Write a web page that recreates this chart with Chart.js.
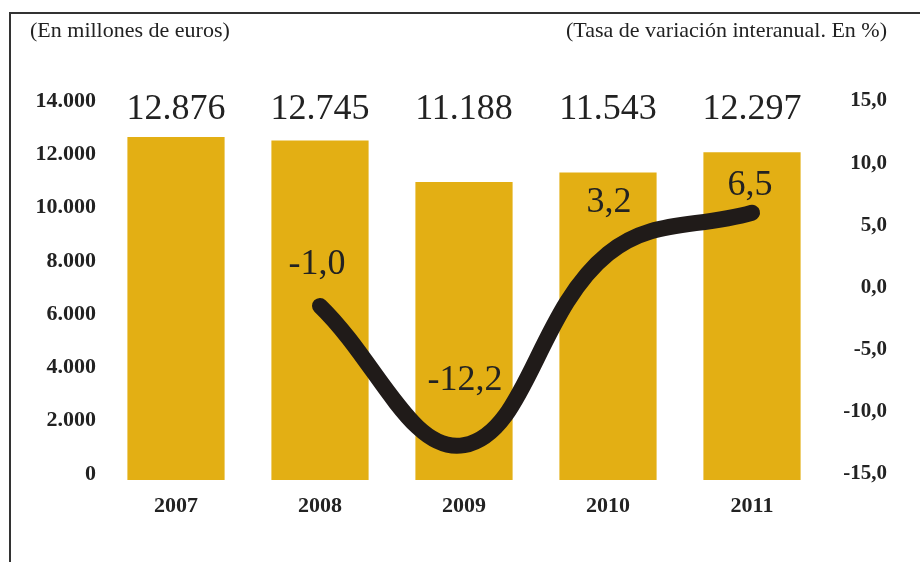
<!DOCTYPE html>
<html>
<head>
<meta charset="utf-8">
<script src="https://cdn.jsdelivr.net/npm/chart.js@4/dist/chart.umd.min.js"></script>
<style>
  html, body { margin: 0; padding: 0; background: #fff; }
  #wrap { position: relative; width: 920px; height: 562px; overflow: hidden; }
  #frame { position: absolute; left: 9px; top: 12px; right: -4px; bottom: -4px;
           border-top: 2px solid #333; border-left: 2px solid #333; }
  canvas { position: absolute; left: 0; top: 0; }
</style>
</head>
<body>
<div id="wrap">
  <div id="frame"></div>
  <canvas id="chart" width="920" height="562"></canvas>
</div>
<script>
// datos
const years = ['2007', '2008', '2009', '2010', '2011'];
const importe = [12876, 12745, 11188, 11543, 12297];        // millones de euros
const variacion = [null, -1.0, -12.2, 3.2, 6.5];            // % interanual
const leftTicks = [0, 2000, 4000, 6000, 8000, 10000, 12000, 14000];
const rightTicks = [-15, -10, -5, 0, 5, 10, 15];

// ajuste de las etiquetas de la línea (px respecto al punto)
const lineLabelDx = [0, -3, 1, 1, -2];
const lineLabelDy = [0, -44, -67, -54, -30];

const serif = '"Liberation Serif", "Times New Roman", serif';
const barColor = '#E3AF14';
const lineColor = '#201b19';

function fmtNum(v, dec) {
    return v.toLocaleString('es-ES', { minimumFractionDigits: dec, maximumFractionDigits: dec, useGrouping: 'always' });
}

const labelsPlugin = {
    id: 'labels',
    afterDatasetsDraw(chart) {
        const ctx = chart.ctx;
        const area = chart.chartArea;
        ctx.save();
        ctx.fillStyle = '#222';
        ctx.textAlign = 'center';
        ctx.textBaseline = 'alphabetic';

        // valores de las barras, en una fila encima
        ctx.font = '36px ' + serif;
        const bars = chart.getDatasetMeta(0).data;
        bars.forEach((bar, i) => {
            ctx.fillText(fmtNum(importe[i], 0), bar.x, area.top + 12);
        });

        // valores de la línea
        const pts = chart.getDatasetMeta(1).data;
        pts.forEach((p, i) => {
            if (variacion[i] === null) return;
            ctx.fillText(fmtNum(variacion[i], 1), p.x + lineLabelDx[i], p.y + lineLabelDy[i] + 12);
        });

        // títulos de los ejes
        ctx.font = '22px ' + serif;
        ctx.textAlign = 'left';
        ctx.fillText('(En millones de euros)', 30, 37);
        ctx.textAlign = 'right';
        ctx.fillText('(Tasa de variación interanual. En %)', 887, 37);
        ctx.restore();
    }
};

const ctx = document.getElementById('chart').getContext('2d');
new Chart(ctx, {
    type: 'bar',
    data: {
        labels: years,
        datasets: [{
            type: 'bar',
            data: importe,
            backgroundColor: barColor,
            barPercentage: 0.675,
            categoryPercentage: 1,
            yAxisID: 'y',
            order: 2
        }, {
            type: 'line',
            data: variacion,
            borderColor: lineColor,
            borderWidth: 16,
            borderCapStyle: 'round',
            borderJoinStyle: 'round',
            pointRadius: 0,
            tension: 0.4,
            yAxisID: 'y1',
            order: 1
        }]
    },
    options: {
        responsive: false,
        animation: false,
        layout: { padding: { top: 107, left: 0, right: 33, bottom: 0 } },
        plugins: {
            legend: { display: false },
            tooltip: { enabled: false }
        },
        scales: {
            x: {
                grid: { display: false, drawTicks: false },
                border: { display: false },
                ticks: {
                    padding: 13,
                    color: '#222',
                    font: { family: serif, size: 22, weight: 'bold' }
                },
                afterFit(scale) { scale.height = 82; }
            },
            y: {
                position: 'left',
                min: 0,
                max: 14000,
                afterBuildTicks(scale) { scale.ticks = leftTicks.map(v => ({ value: v })); },
                grid: { display: false, drawTicks: false },
                border: { display: false },
                ticks: {
                    padding: 8,
                    labelOffset: -6,
                    color: '#222',
                    font: { family: serif, size: 22, weight: 'bold' },
                    callback: v => fmtNum(v, 0)
                },
                afterFit(scale) { scale.width = 104; }
            },
            y1: {
                position: 'right',
                min: -15,
                max: 15,
                afterBuildTicks(scale) { scale.ticks = rightTicks.map(v => ({ value: v })); },
                grid: { display: false, drawTicks: false },
                border: { display: false },
                ticks: {
                    padding: 16,
                    labelOffset: -6,
                    crossAlign: 'far',
                    color: '#222',
                    font: { family: serif, size: 21, weight: 'bold' },
                    callback: v => fmtNum(v, 1)
                },
                afterFit(scale) { scale.width = 63; }
            }
        }
    },
    plugins: [labelsPlugin]
});
</script>
</body>
</html>
